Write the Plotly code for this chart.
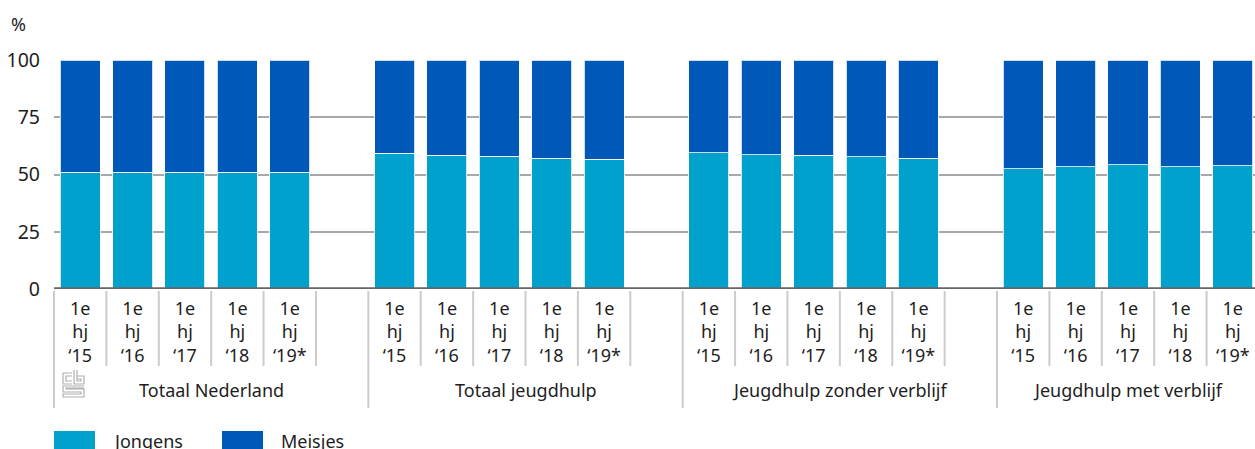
import plotly.graph_objects as go

# ---- data ----
groups = ["Totaal Nederland", "Totaal jeugdhulp", "Jeugdhulp zonder verblijf", "Jeugdhulp met verblijf"]
periods = ["1e<br>hj<br>\u201815", "1e<br>hj<br>\u201816", "1e<br>hj<br>\u201817", "1e<br>hj<br>\u201818", "1e<br>hj<br>\u201819*"]
jongens = [
    [51.0, 51.0, 51.0, 51.0, 51.0],
    [59.3, 58.5, 58.0, 57.2, 56.7],
    [59.6, 58.7, 58.4, 57.7, 57.1],
    [52.6, 53.4, 54.2, 53.4, 53.8],
]
meisjes = [[round(100 - v, 1) for v in g] for g in jongens]
series_names = ["Jongens", "Meisjes"]
colors = ["#00a1cd", "#0058b8"]

W, H = 1255, 449
L, R, T, B = 54, 0, 60, 160
PW, PH = W - L - R, H - T - B
slot = 52.39
xr0 = -0.5
xr1 = xr0 + PW / slot


def px(xp):
    return (xp - L) / PW


def py(yp):
    return (H - B - yp) / PH


xs, yj, ym, tv, tt = [], [], [], [], []
for gi, g in enumerate(groups):
    for pi, p in enumerate(periods):
        x = gi * 6 + pi
        xs.append(x)
        yj.append(jongens[gi][pi])
        ym.append(meisjes[gi][pi])
        tv.append(x)
        tt.append(p)

fig = go.Figure()
fig.add_trace(go.Bar(x=xs, y=yj, name=series_names[0], marker=dict(color=colors[0], line=dict(color="rgba(255,255,255,0.8)", width=1)), width=0.764))
fig.add_trace(go.Bar(x=xs, y=ym, name=series_names[1], marker=dict(color=colors[1], line=dict(color="rgba(255,255,255,0.8)", width=1)), width=0.764))

font_family = "Noto Sans"
txt = "#1e1e1e"
fs = 18

fig.update_layout(
    barmode="stack",
    width=W, height=H,
    margin=dict(l=L, r=R, t=T, b=B, autoexpand=False),
    plot_bgcolor="white", paper_bgcolor="white",
    showlegend=False,
    font=dict(family=font_family, size=fs, color=txt),
    xaxis=dict(range=[xr0, xr1], tickvals=tv, ticktext=tt, ticks="", showgrid=False,
               zeroline=False, showline=False, tickfont=dict(size=fs, color=txt),
               ticklabelstandoff=7),
    yaxis=dict(range=[0, 100], tickvals=[0, 25, 50, 75, 100], showgrid=True,
               gridcolor="#a8a8a8", gridwidth=1.5, zeroline=False, showline=False,
               ticks="", tickfont=dict(size=19.5, color=txt), ticklabelstandoff=13),
)

shapes = []
# zero axis line
shapes.append(dict(type="line", xref="paper", yref="y", x0=0, x1=1, y0=0, y1=0,
                   line=dict(color="#666666", width=3.5), layer="above"))
# separators
sep_col = "#cccccc"
shapes.append(dict(type="line", xref="paper", yref="paper", x0=0, x1=0, y0=py(291), y1=py(408),
                   line=dict(color=sep_col, width=2)))
for k in range(22):
    xk = k + 0.5
    if k % 6 == 5:
        y1 = py(408)
    else:
        y1 = py(366)
    shapes.append(dict(type="line", xref="x", yref="paper", x0=xk, x1=xk, y0=py(291), y1=y1,
                       line=dict(color=sep_col, width=2)))

annotations = []
for gi, g in enumerate(groups):
    nslots = 6 if gi < len(groups) - 1 else 5
    cx = gi * 6 - 0.5 + nslots / 2
    annotations.append(dict(text=g, x=cx, xref="x", y=py(390), yref="paper", showarrow=False,
                            xanchor="center", yanchor="middle", font=dict(size=fs, color=txt)))
annotations.append(dict(text="%", x=px(9), xref="paper", y=py(24), yref="paper", showarrow=False,
                        xanchor="left", yanchor="middle", font=dict(size=fs, color=txt)))

# legend (manual)
leg = [(54, 95, 111), (222, 263, 279)]
for (a, b, t), name, c in zip(leg, series_names, colors):
    shapes.append(dict(type="rect", xref="paper", yref="paper", x0=px(a), x1=px(b), y0=py(431), y1=py(452),
                       fillcolor=c, line=dict(width=0)))
    annotations.append(dict(text=name, x=px(t), xref="paper", y=py(441), yref="paper", showarrow=False,
                            xanchor="left", yanchor="middle", font=dict(size=fs, color=txt)))

# CBS logo (approximate outline)
lg = "#b0b0b0"
def path(points):
    return "M " + " L ".join(f"{px(x):.5f},{py(y):.5f}" for x, y in points)

logo_paths = [
    # c
    [(72, 373), (63, 373), (63, 384), (72, 384)],
    [(72, 376), (66, 376), (66, 381), (72, 381)],
    # b
    [(74, 370), (74, 384), (84, 384), (84, 376), (77, 376)],
    [(77, 370), (77, 381), (81, 381), (81, 379), (77, 379)],
    # S
    [(84, 386), (63, 386), (63, 392), (81, 392), (81, 394), (63, 394), (63, 397), (84, 397), (84, 389), (66, 389), (66, 388), (84, 388)],
]
for pts in logo_paths:
    shapes.append(dict(type="path", xref="paper", yref="paper", path=path(pts),
                       line=dict(color=lg, width=1.2)))

fig.update_layout(shapes=shapes, annotations=annotations)
fig.write_html("out.html", config={"displayModeBar": False},
               post_script="document.body.style.margin='0';document.body.style.overflow='hidden';")
